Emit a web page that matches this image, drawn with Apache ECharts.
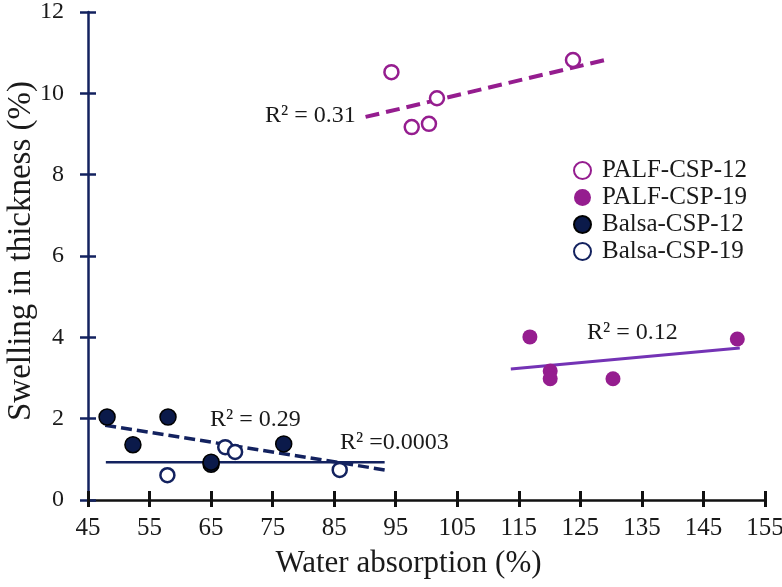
<!DOCTYPE html>
<html>
<head>
<meta charset="utf-8">
<script src="https://cdn.jsdelivr.net/npm/echarts@6/dist/echarts.min.js"></script>
<style>
  html, body { margin: 0; padding: 0; background: #fff; }
  #chart { width: 782px; height: 587px; }
</style>
</head>
<body>
<div id="chart"></div>
<script>
// data: [water absorption, swelling]
const palf12 = [[94.3, 10.52], [97.6, 9.17], [100.4, 9.25], [101.7, 9.88], [123.8, 10.82]];
const palf19 = [[116.8, 4.01], [120.1, 3.17], [120.1, 2.98], [130.3, 2.98], [150.5, 3.96]];
const balsa12 = [[48.1, 2.04], [52.3, 1.36], [58.0, 2.04], [65.0, 0.88], [65.0, 0.93], [76.8, 1.38]];
const balsa19 = [[57.9, 0.61], [67.3, 1.30], [68.9, 1.18], [85.9, 0.74]];

// trend line end points
const palf12Trend = [[90.1, 9.42], [129.0, 10.82]];
const palf19Trend = [[113.7, 3.22], [150.9, 3.74]];
const balsa12Trend = [[47.8, 1.84], [93.2, 0.74]];
const balsa19Trend = [[47.9, 0.93], [93.2, 0.93]];

const seriesNames = ['PALF-CSP-12', 'PALF-CSP-19', 'Balsa-CSP-12', 'Balsa-CSP-19'];

const magenta = '#951d8f';
const violet = '#7433b5';
const navy = '#13225f';
const font = 'Liberation Serif';

const chart = echarts.init(document.getElementById('chart'));

function r2Label(x, y, text) {
  return {
    type: 'text', x: x, y: y, z: 10,
    style: { text: text, font: '24px "Liberation Serif"', fill: '#1a1a1a', verticalAlign: 'middle' }
  };
}

const option = {
  animation: false,
  grid: { left: 88, right: 17, top: 12, bottom: 87, outerBoundsMode: 'none', containLabel: false },
  legend: {
    data: seriesNames,
    orient: 'vertical',
    left: 568,
    top: 153,
    itemWidth: 17,
    itemHeight: 17,
    itemGap: 2,
    textStyle: { fontFamily: font, fontSize: 25, lineHeight: 25, color: '#1a1a1a', padding: [0, 0, 0, 6] }
  },
  xAxis: [{
    type: 'value',
    min: 45, max: 155, interval: 10,
    name: 'Water absorption (%)',
    nameLocation: 'middle',
    nameGap: 48,
    nameTextStyle: { fontFamily: font, fontSize: 31, color: '#1a1a1a', padding: [0, 36, 0, 0] },
    axisLine: { lineStyle: { color: '#111', width: 2.5 } },
    axisTick: { length: 7, lineStyle: { color: '#111', width: 3 } },
    axisLabel: { fontFamily: font, fontSize: 25, color: '#1a1a1a', margin: 16 },
    splitLine: { show: false }
  }, {
    type: 'value',
    position: 'bottom',
    min: 45, max: 155, interval: 10,
    axisLine: { show: false },
    axisTick: { inside: true, length: 9, lineStyle: { color: '#111', width: 3 } },
    axisLabel: { show: false },
    splitLine: { show: false }
  }],
  yAxis: [{
    type: 'value',
    min: 0, max: 12, interval: 2,
    axisLine: { show: true, lineStyle: { color: navy, width: 2.5 } },
    axisTick: { show: true, length: 8, lineStyle: { color: navy, width: 2.5 } },
    axisLabel: { fontFamily: font, fontSize: 24, color: '#1a1a1a', margin: 24 },
    splitLine: { show: false }
  }, {
    type: 'value',
    position: 'left',
    min: 0, max: 12, interval: 2,
    axisLine: { show: false },
    axisTick: { show: true, inside: true, length: 8, lineStyle: { color: navy, width: 2.5 } },
    axisLabel: { show: false },
    splitLine: { show: false }
  }],
  series: [
    {
      name: 'PALF-CSP-12', type: 'scatter', data: palf12, symbolSize: 14, z: 3,
      itemStyle: { color: '#fff', borderColor: magenta, borderWidth: 2.5, opacity: 1 }
    },
    {
      name: 'PALF-CSP-19', type: 'scatter', data: palf19, symbolSize: 15, z: 3,
      itemStyle: { color: magenta, opacity: 1 }
    },
    {
      name: 'Balsa-CSP-12', type: 'scatter', data: balsa12, symbolSize: 16, z: 3,
      itemStyle: { color: '#0b1a4a', borderColor: '#000', borderWidth: 1.5, opacity: 1 }
    },
    {
      name: 'Balsa-CSP-19', type: 'scatter', data: balsa19, symbolSize: 14, z: 3,
      itemStyle: { color: '#fff', borderColor: navy, borderWidth: 2.5, opacity: 1 }
    },
    {
      type: 'line', data: palf12Trend, showSymbol: false, z: 2, silent: true,
      lineStyle: { color: magenta, width: 4, type: [14, 7] }
    },
    {
      type: 'line', data: palf19Trend, showSymbol: false, z: 2, silent: true,
      lineStyle: { color: violet, width: 3 }
    },
    {
      type: 'line', data: balsa12Trend, showSymbol: false, z: 2, silent: true,
      lineStyle: { color: navy, width: 3.5, type: [11, 5] }
    },
    {
      type: 'line', data: balsa19Trend, showSymbol: false, z: 2, silent: true,
      lineStyle: { color: navy, width: 2.5 }
    }
  ],
  graphic: [
    // y axis title
    {
      type: 'text', x: 21, y: 251, rotation: Math.PI / 2,
      style: {
        text: 'Swelling in thickness (%)', font: '33px "Liberation Serif"', fill: '#1a1a1a',
        align: 'center', verticalAlign: 'middle'
      }
    },
    r2Label(265, 116, 'R² = 0.31'),
    r2Label(587, 333, 'R² = 0.12'),
    r2Label(210, 420, 'R² = 0.29'),
    r2Label(340, 443, 'R² =0.0003')
  ]
};

chart.setOption(option);
</script>
</body>
</html>
